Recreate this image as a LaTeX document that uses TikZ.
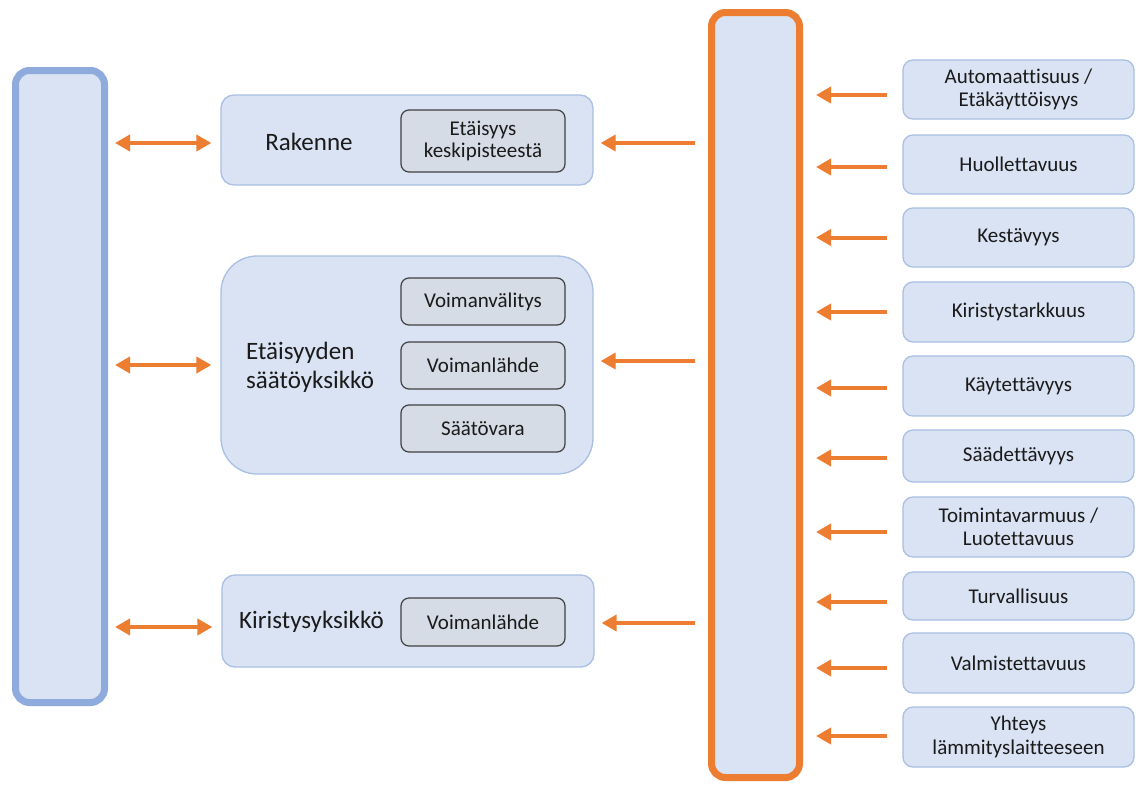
\documentclass[tikz,border=0pt]{standalone}
\usepackage{fontspec}
\setmainfont{Carlito}[Ligatures={NoCommon}]
\usetikzlibrary{arrows.meta}
\definecolor{orng}{HTML}{ED7D31}
\definecolor{lblue}{HTML}{DAE3F3}
\definecolor{bblue}{HTML}{8FAADC}
\definecolor{mblue}{HTML}{A9BFE3}
\definecolor{gfill}{HTML}{D6DCE5}
\definecolor{gline}{HTML}{404040}
\definecolor{txt}{HTML}{1A1A1A}
\tikzset{
  bigL/.style={draw=bblue, line width=7pt, fill=lblue, rounded corners=14pt, minimum width=89pt, minimum height=632pt, inner sep=0pt},
  bigR/.style={draw=orng, line width=7pt, fill=lblue, rounded corners=14pt, minimum width=88pt, minimum height=765pt, inner sep=0pt},
  midbox/.style={draw=mblue, line width=1.3pt, fill=lblue, minimum width=372pt, inner sep=0pt},
  inbox/.style={draw=gline, line width=1.2pt, fill=gfill, rounded corners=8pt, minimum width=164pt, inner sep=0pt, align=center, font=\fontsize{21}{22}\selectfont, text=txt},
  rbox/.style={draw=mblue, line width=1.3pt, fill=lblue, rounded corners=10pt, minimum width=231pt, inner sep=0pt, align=center, font=\fontsize{21}{23.5}\selectfont, text=txt},
  biglabel/.style={font=\fontsize{25}{29}\selectfont, text=txt, inner sep=0pt, align=left},
  arr/.style={draw=orng, line width=4pt, -{Triangle[length=15pt,width=16pt]}},
  darr/.style={draw=orng, line width=4pt, {Triangle[length=15pt,width=16pt]}-{Triangle[length=15pt,width=16pt]}},
}
\begin{document}
\begin{tikzpicture}[x=1pt,y=-1pt]
\useasboundingbox[fill=white] (0,0) rectangle (1136,785);
% big boxes
\node[bigL] (L) at (60,386.5) {};
\node[bigR] (R) at (755.5,395) {};
% middle boxes
\node[midbox, rounded corners=13pt, minimum height=90pt] (m1) at (407,140) {};
\node[midbox, rounded corners=36pt, minimum height=218pt] (m2) at (407,365) {};
\node[midbox, rounded corners=13pt, minimum height=92pt] (m3) at (408,621) {};
% labels
\node[biglabel] (t1) at (309,142) {Rakenne};
\node[biglabel, anchor=west] (t2) at (246,367) {Etäisyyden\\säätöyksikkö};
\node[biglabel, anchor=west] (t3) at (239,622) {Kiristysyksikkö};
% inner boxes
\node[inbox, minimum height=62pt] (i1) at (483,141) {Etäisyys\\keskipisteestä};
\node[inbox, minimum height=47pt] (i2) at (483,301.5) {Voimanvälitys};
\node[inbox, minimum height=47pt] (i3) at (483,365.5) {Voimanlähde};
\node[inbox, minimum height=47pt] (i4) at (483,428.5) {Säätövara};
\node[inbox, minimum height=48pt] (i5) at (483,622) {Voimanlähde};
% right boxes
\node[rbox, minimum height=59pt] (b1) at (1018.5,89.5) {Automaattisuus /\\Etäkäyttöisyys};
\node[rbox, minimum height=59pt] (b2) at (1018.5,164.5) {Huollettavuus};
\node[rbox, minimum height=59pt] (b3) at (1018.5,237.5) {Kestävyys};
\node[rbox, minimum height=60pt] (b4) at (1018.5,312) {Kiristystarkkuus};
\node[rbox, minimum height=60pt] (b5) at (1018.5,386) {Käytettävyys};
\node[rbox, minimum height=52pt] (b6) at (1018.5,456) {Säädettävyys};
\node[rbox, minimum height=60pt] (b7) at (1018.5,527) {Toimintavarmuus /\\Luotettavuus};
\node[rbox, minimum height=48pt] (b8) at (1018.5,596) {Turvallisuus};
\node[rbox, minimum height=60pt] (b9) at (1018.5,663) {Valmistettavuus};
\node[rbox, minimum height=60pt] (b10) at (1018.5,737) {Yhteys\\lämmityslaitteeseen};
% arrows from right boxes to big orange box (negative yshift moves down)
\foreach \i/\dy in {1/-5.5,2/-2.5,3/0,4/0,5/-2,6/-2,7/-5,8/-6,9/-5,10/1}{
  \draw[arr] ([xshift=-15pt,yshift=\dy pt]b\i.west) -- ([xshift=13pt,yshift=\dy pt]b\i.west -| R.east);
}
% arrows from big orange box to middle boxes
\draw[arr] ([xshift=-13pt,yshift=-3pt]R.west |- m1.east) -- ([xshift=7pt,yshift=-3pt]m1.east);
\draw[arr] ([xshift=-13pt,yshift=4pt]R.west |- m2.east) -- ([xshift=7pt,yshift=4pt]m2.east);
\draw[arr] ([xshift=-13pt,yshift=-2pt]R.west |- m3.east) -- ([xshift=7pt,yshift=-2pt]m3.east);
% double arrows between left box and middle boxes
\draw[darr] ([xshift=7pt,yshift=-3pt]L.east |- m1.west) -- ([xshift=-9pt,yshift=-3pt]m1.west);
\draw[darr] ([xshift=7pt]L.east |- m2.west) -- ([xshift=-9pt]m2.west);
\draw[darr] ([xshift=7pt,yshift=-6pt]L.east |- m3.west) -- ([xshift=-9pt,yshift=-6pt]m3.west);
\end{tikzpicture}
\end{document}
